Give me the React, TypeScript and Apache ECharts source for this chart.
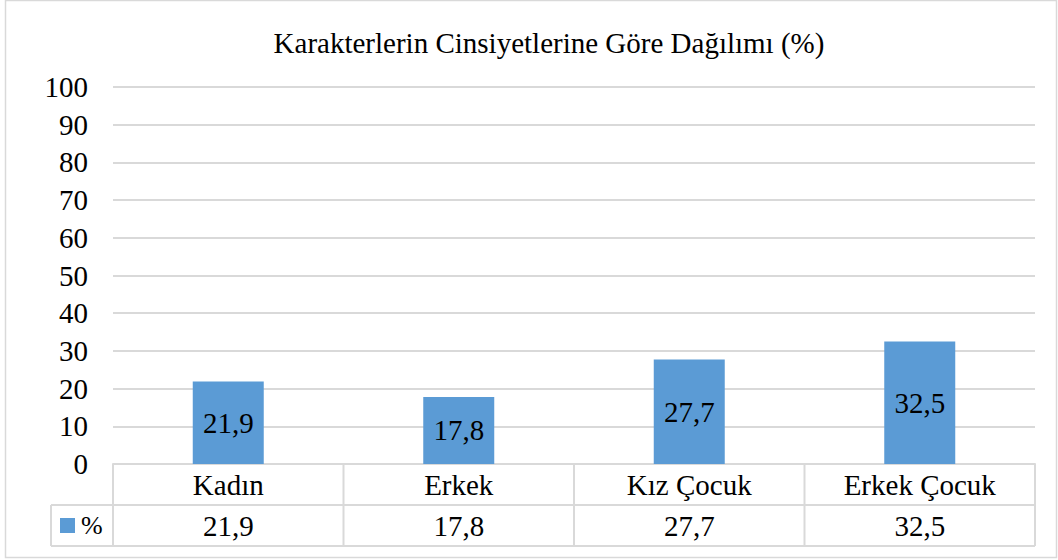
import React, { useEffect, useRef } from "react";
import * as echarts from "echarts";

const titleText = "Karakterlerin Cinsiyetlerine Göre Dağılımı (%)";
const categories = ["Kadın", "Erkek", "Kız Çocuk", "Erkek Çocuk"];
const values = [21.9, 17.8, 27.7, 32.5];
const seriesName = "%";
const yMin = 0;
const yMax = 100;
const yInterval = 10;

const FONT = "Liberation Serif";
const fmt = (v: number) => v.toFixed(1).replace(".", ",");

export default function App() {
  const ref = useRef<HTMLDivElement>(null);
  useEffect(() => {
    if (!ref.current) return;
    const chart = echarts.init(ref.current, undefined, { renderer: "svg" });
    const W = 1058;
    const gridLeft = 113;
    const gridRight = 1035;
    const axisY = 464;
    const rowH = 41;
    const legendLeft = 51;
    const lineColor = "#d9d9d9";
    const colW = (gridRight - gridLeft) / categories.length;
    const FS = 29;

    const graphics: any[] = [];
    graphics.push({
      type: "rect",
      shape: { x: 5.5, y: 0.5, width: 1051, height: 557 },
      style: { fill: "none", stroke: lineColor, lineWidth: 1.5 },
      silent: true,
    });
    const line = (x1: number, y1: number, x2: number, y2: number) => ({
      type: "line",
      shape: { x1, y1, x2, y2 },
      style: { stroke: lineColor, lineWidth: 2 },
      silent: true,
    });
    graphics.push(line(legendLeft, axisY + rowH, gridRight, axisY + rowH));
    graphics.push(line(legendLeft, axisY + 2 * rowH, gridRight, axisY + 2 * rowH));
    for (let i = 0; i <= categories.length; i++) {
      const x = gridLeft + i * colW;
      graphics.push(line(x, axisY, x, axisY + 2 * rowH));
    }
    graphics.push(line(legendLeft, axisY + rowH, legendLeft, axisY + 2 * rowH));
    const txt = (text: string, x: number, y: number, align: string, fs = FS) => ({
      type: "text",
      x,
      y,
      style: {
        text,
        fill: "#000",
        fontFamily: FONT,
        fontSize: fs,
        align,
        verticalAlign: "middle",
      },
    });
    categories.forEach((c, i) => {
      const cx = gridLeft + (i + 0.5) * colW;
      graphics.push(txt(c, cx, axisY + rowH / 2, "center"));
      graphics.push(txt(fmt(values[i]), cx, axisY + rowH * 1.5, "center"));
    });
    graphics.push({
      type: "rect",
      shape: { x: 60, y: axisY + rowH * 1.5 - 7.5, width: 15, height: 15 },
      style: { fill: "#5b9bd5" },
    });
    graphics.push(txt(seriesName, 81, axisY + rowH * 1.5, "left", 26));

    chart.setOption({
      animation: false,
      backgroundColor: "#fff",
      title: {
        text: titleText,
        left: 544,
        top: 23,
        textAlign: "center",
        textStyle: {
          fontFamily: FONT,
          fontSize: 29,
          fontWeight: "normal",
          color: "#000",
        },
      },
      grid: {
        left: gridLeft,
        right: W - gridRight,
        top: 87,
        bottom: 560 - axisY,
        containLabel: false,
      },
      xAxis: {
        type: "category",
        data: categories,
        axisLine: { show: true, lineStyle: { color: lineColor, width: 2 } },
        axisTick: { show: false },
        axisLabel: { show: false },
      },
      yAxis: {
        type: "value",
        min: yMin,
        max: yMax,
        interval: yInterval,
        axisLine: { show: false },
        axisTick: { show: false },
        axisLabel: {
          fontFamily: FONT,
          fontSize: FS,
          color: "#000",
          margin: 25,
        },
        splitLine: { lineStyle: { color: lineColor, width: 2 } },
      },
      series: [
        {
          name: seriesName,
          type: "bar",
          data: values,
          barWidth: 71,
          itemStyle: { color: "#5b9bd5" },
          label: {
            show: true,
            position: "inside",
            formatter: (p: any) => fmt(p.value),
            fontFamily: FONT,
            fontSize: FS,
            color: "#000",
          },
        },
      ],
      graphic: graphics,
    });
    return () => chart.dispose();
  }, []);
  return (
    <div
      ref={ref}
      style={{ position: "absolute", left: 0, top: 0, width: 1058, height: 560 }}
    />
  );
}
